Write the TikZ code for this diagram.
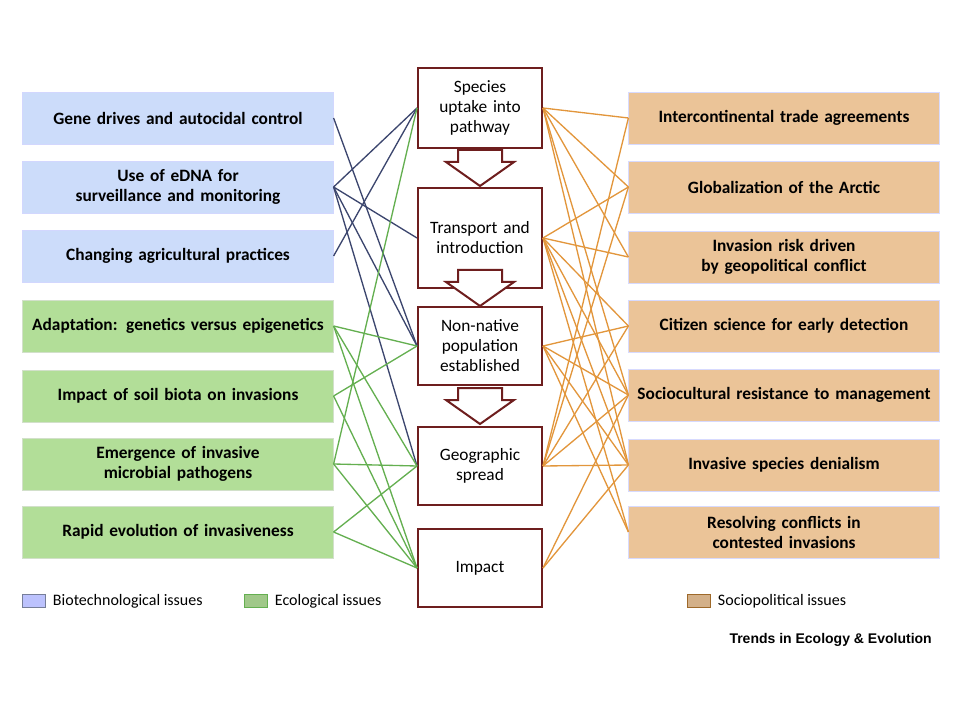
\documentclass[tikz,border=0pt]{standalone}
\usepackage{fontspec}
\setmainfont{Carlito}
\newfontfamily\journalfont{Liberation Sans}
\usetikzlibrary{positioning}
\definecolor{bioblue}{RGB}{204,220,250}
\definecolor{bioline}{RGB}{60,70,110}
\definecolor{ecogreen}{RGB}{178,222,152}
\definecolor{ecoline}{RGB}{100,175,80}
\definecolor{socorange}{RGB}{235,196,152}
\definecolor{socline}{RGB}{226,150,60}
\definecolor{stageborder}{RGB}{110,30,30}
\newcommand{\nohyph}{\hyphenpenalty=10000\relax}
\newcommand{\stagearrow}[2]{% x, top y
  \draw[stageborder, line width=1.5pt, fill=white]
    (#1-22,#2) -- (#1+22,#2) -- (#1+22,#2+12) -- (#1+34,#2+12) -- (#1,#2+36)
    -- (#1-34,#2+12) -- (#1-22,#2+12) -- cycle;}
\begin{document}
\begin{tikzpicture}[x=0.75pt,y=-0.75pt,
    issue/.style = {minimum width=233pt, minimum height=39pt, text width=224pt,
                    align=center, font=\bfseries\fontsize{13}{15}\selectfont\nohyph,
                    inner sep=1pt, draw=bioblue!70!blue!40},
    bio/.style = {issue, fill=bioblue},
    eco/.style = {issue, fill=ecogreen, draw=ecogreen!80!black!40},
    soc/.style = {issue, fill=socorange, draw=bioblue!60!blue!30},
    stage/.style = {draw=stageborder, line width=1.5pt, fill=white,
                    minimum width=93pt, text width=88pt, align=center,
                    font=\fontsize{13}{15}\selectfont\nohyph, inner sep=1pt},
    bl/.style = {bioline, line width=1pt},
    gl/.style = {ecoline, line width=1pt},
    ol/.style = {socline, line width=1pt},
    legendbox/.style = {minimum width=17pt, minimum height=10pt, inner sep=0pt}]
  \useasboundingbox (0,0) rectangle (960,720);

  % left issues
  \node[bio] (gene) at (178,118) {Gene drives and autocidal control};
  \node[bio] (edna) at (178,187) {Use of eDNA for surveillance and monitoring};
  \node[bio] (agri) at (178,256) {Changing agricultural practices};
  \node[eco] (adapt) at (178,326) {Adaptation: genetics versus epigenetics};
  \node[eco] (soil) at (178,396) {Impact of soil biota on invasions};
  \node[eco] (microb) at (178,464) {Emergence of invasive microbial pathogens};
  \node[eco] (rapid) at (178,532) {Rapid evolution of invasiveness};

  % right issues
  \node[soc] (trade) at (784,118) {Intercontinental trade agreements};
  \node[soc] (arctic) at (784,187) {Globalization of the Arctic};
  \node[soc] (geopol) at (784,257) {Invasion risk driven by geopolitical conflict};
  \node[soc] (citizen) at (784,326) {Citizen science for early detection};
  \node[soc] (socio) at (784,395) {Sociocultural resistance to management};
  \node[soc] (denial) at (784,465) {Invasive species denialism};
  \node[soc] (resolve) at (784,532) {Resolving conflicts in contested invasions};

  % stages
  \node[stage, minimum height=60pt, text width=62pt] (uptake) at (480,108) {Species uptake into pathway};
  \node[stage, minimum height=75pt] (transport) at (480,238) {Transport and introduction};
  \node[stage, minimum height=59pt, text width=70pt] (nonnative) at (480,346) {Non-native population established};
  \node[stage, minimum height=59pt] (spread) at (480,466) {Geographic spread};
  \node[stage, minimum height=58pt] (impact) at (480,568) {Impact};
  \stagearrow{480}{150}
  \stagearrow{480}{270}
  \stagearrow{480}{388}

  % biotechnological links
  \draw[bl] (gene.east) -- (nonnative.west);
  \foreach \s in {uptake,transport,nonnative,spread}
    \draw[bl] (edna.east) -- (\s.west);
  \draw[bl] (agri.east) -- (uptake.west);

  % ecological links
  \foreach \a/\s in {adapt/nonnative,adapt/spread,adapt/impact,soil/nonnative,soil/impact,
                     microb/uptake,microb/spread,microb/impact,rapid/spread,rapid/impact}
    \draw[gl] (\a.east) -- (\s.west);

  % sociopolitical links
  \foreach \s/\b in {uptake/trade,uptake/arctic,uptake/geopol,uptake/socio,uptake/denial,
                     transport/arctic,transport/geopol,transport/citizen,transport/socio,
                     transport/denial,transport/resolve,
                     nonnative/citizen,nonnative/socio,nonnative/denial,nonnative/resolve,
                     spread/trade,spread/arctic,spread/citizen,spread/socio,spread/denial,
                     impact/socio,impact/denial}
    \draw[ol] (\s.east) -- (\b.west);

  % legend
  \node[legendbox, fill=bioblue!70!blue!60, draw=bioline!70] (lbio) at (34,601) {};
  \node[right=2pt of lbio, font=\fontsize{12}{13}\selectfont] {Biotechnological issues};
  \node[legendbox, fill=ecogreen!90!black, draw=ecoline] (leco) at (256,601) {};
  \node[right=2pt of leco, font=\fontsize{12}{13}\selectfont] {Ecological issues};
  \node[legendbox, fill=socorange!90!black, draw=socline!70!black] (lsoc) at (699,601) {};
  \node[right=2pt of lsoc, font=\fontsize{12}{13}\selectfont] {Sociopolitical issues};
  \node[anchor=east, font=\journalfont\bfseries\fontsize{10.5}{12}\selectfont, inner sep=0pt] (journal) at (932,640)
    {Trends in Ecology \& Evolution};
\end{tikzpicture}
\end{document}
